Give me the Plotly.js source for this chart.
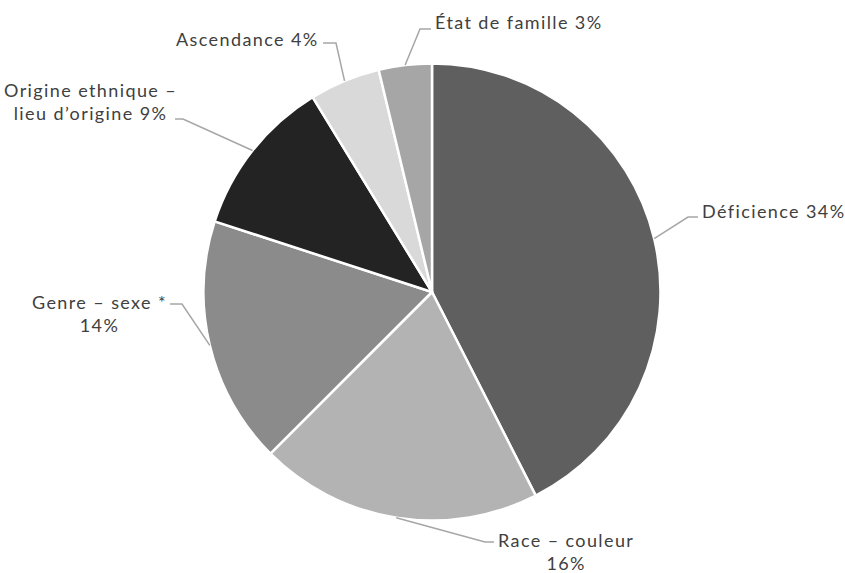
<!DOCTYPE html>
<html>
<head>
<meta charset="utf-8">
<script src="https://cdn.plot.ly/plotly-3.0.1.min.js"></script>
<style>
  html, body { margin: 0; padding: 0; background: #ffffff; }
  #chart { width: 845px; height: 573px; }
  .annotation-text { letter-spacing: 1.4px; }
</style>
</head>
<body>
<div id="chart"></div>
<script>
// Motifs de plainte, en pourcentage
const categories = [
  'Déficience',
  'Race – couleur',
  'Genre – sexe *',
  'Origine ethnique – lieu d’origine',
  'Ascendance',
  'État de famille'
];
const values = [34, 16, 14, 9, 4, 3];
// Libellés affichés (avec retours à la ligne)
const displayLabels = [
  'Déficience',
  'Race – couleur<br>',
  'Genre – sexe *<br>',
  'Origine ethnique –<br>lieu d’origine',
  'Ascendance',
  'État de famille'
];
const sliceColors = ['#5f5f5f', '#b3b3b3', '#8b8b8b', '#232323', '#d9d9d9', '#a6a6a6'];

// Page geometry (pixels)
const W = 845, H = 573;
const CX = 432, CY = 292, R = 228.5;

// Label placement: elbow of the leader line, end of its short tail,
// and the anchor of the text block (pixels)
const labelPlacement = [
  { elbow: [688, 217], tail: [698, 217], text: [700, 211], xa: 'left',  ya: 'middle' },
  { elbow: [485, 542], tail: [494, 542], text: [496, 551], xa: 'left',  ya: 'middle' },
  { elbow: [182, 304], tail: [170, 304], text: [169, 313], xa: 'right', ya: 'middle' },
  { elbow: [183, 119], tail: [175, 119], text: [179, 102], xa: 'right', ya: 'middle' },
  { elbow: [336, 43],  tail: [323, 43],  text: [321, 39],  xa: 'right', ya: 'middle' },
  { elbow: [420, 29],  tail: [431, 29],  text: [433, 22],  xa: 'left',  ya: 'middle' }
];

const px = x => x / W;
const py = y => 1 - y / H;

// Leader lines start on the rim at each slice's mid-angle (clockwise from 12 o'clock)
const total = values.reduce((a, b) => a + b, 0);
let cum = 0;
const shapes = [];
const annotations = [];
values.forEach((v, i) => {
  const mid = (cum + v / 2) / total * 2 * Math.PI;
  cum += v;
  const ex = CX + R * Math.sin(mid);
  const ey = CY - R * Math.cos(mid);
  const p = labelPlacement[i];
  shapes.push({
    type: 'path', xref: 'paper', yref: 'paper',
    path: `M ${px(ex)},${py(ey)} L ${px(p.elbow[0])},${py(p.elbow[1])} L ${px(p.tail[0])},${py(p.tail[1])}`,
    line: { color: '#a6a6a6', width: 1.5 }
  });
  const sep = displayLabels[i].endsWith('<br>') ? '' : ' ';
  annotations.push({
    xref: 'paper', yref: 'paper',
    x: px(p.text[0]), y: py(p.text[1]),
    xanchor: p.xa, yanchor: p.ya, align: 'center',
    showarrow: false,
    text: displayLabels[i] + sep + v + '%',
    font: { family: 'Lato, "Open Sans", sans-serif', size: 18, color: '#404040' }
  });
});

const trace = {
  type: 'pie',
  labels: categories,
  values: values,
  sort: false,
  direction: 'clockwise',
  rotation: 0,
  textinfo: 'none',
  hoverinfo: 'label+value',
  marker: { colors: sliceColors, line: { color: '#ffffff', width: 2.5 } },
  domain: { x: [px(CX - R), px(CX + R)], y: [py(CY + R), py(CY - R)] },
  showlegend: false
};

const layout = {
  width: W, height: H,
  margin: { l: 0, r: 0, t: 0, b: 0 },
  paper_bgcolor: '#ffffff',
  showlegend: false,
  shapes: shapes,
  annotations: annotations
};

Plotly.newPlot('chart', [trace], layout, { displayModeBar: false, staticPlot: true });
</script>
</body>
</html>
